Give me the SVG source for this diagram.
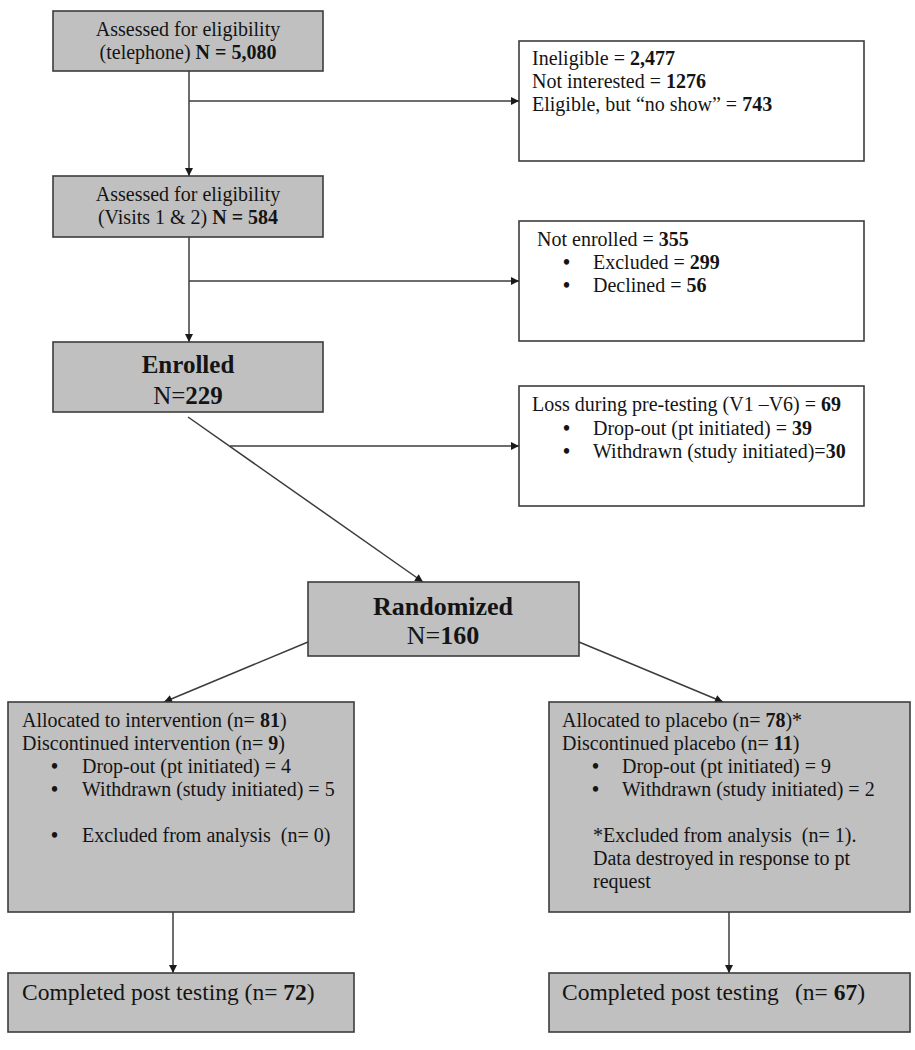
<svg xmlns="http://www.w3.org/2000/svg" width="915" height="1050" viewBox="0 0 915 1050">
<style>
.bg{fill:#ffffff}
.box{fill:#c0c0c0;stroke:#3c3c3c;stroke-width:1.6}
.wbox{fill:#ffffff;stroke:#3c3c3c;stroke-width:1.6}
.t{font-family:"Liberation Serif","Times New Roman",serif;font-size:20px;fill:#141414}
.dot{font-family:"Liberation Serif","Times New Roman",serif;font-size:20px;fill:#141414;font-weight:bold}
.big{font-family:"Liberation Serif","Times New Roman",serif;font-size:25px;fill:#141414;font-weight:bold}
.post{font-family:"Liberation Serif","Times New Roman",serif;font-size:23.5px;fill:#141414}
.c{text-anchor:middle}
.b{font-weight:bold}
.n{font-weight:normal}
.con{stroke:#3c3c3c;stroke-width:1.5;fill:none}
</style>
<defs>
<marker id="arr" viewBox="0 0 10 10" refX="10" refY="5" markerWidth="9" markerHeight="8" markerUnits="userSpaceOnUse" orient="auto">
<path d="M0,0 L10,5 L0,10 z" fill="#1a1a1a"/>
</marker>
</defs>
<rect class="bg" x="0" y="0" width="915" height="1050"/>

<g id="connectors">
<line class="con" x1="189" y1="71" x2="189" y2="176" marker-end="url(#arr)"/>
<line class="con" x1="189" y1="101" x2="519" y2="101" marker-end="url(#arr)"/>
<line class="con" x1="189" y1="237" x2="189" y2="342" marker-end="url(#arr)"/>
<line class="con" x1="189" y1="281" x2="519" y2="281" marker-end="url(#arr)"/>
<line class="con" x1="188" y1="417" x2="423" y2="582" marker-end="url(#arr)"/>
<line class="con" x1="230" y1="446" x2="519" y2="446" marker-end="url(#arr)"/>
<line class="con" x1="308" y1="642" x2="164" y2="702" marker-end="url(#arr)"/>
<line class="con" x1="579" y1="642" x2="723" y2="702" marker-end="url(#arr)"/>
<line class="con" x1="173" y1="912" x2="173" y2="973" marker-end="url(#arr)"/>
<line class="con" x1="729" y1="912" x2="729" y2="973" marker-end="url(#arr)"/>
</g>

<g id="assessed-telephone">
<rect class="box" x="53" y="11" width="270" height="60"/>
<text class="t c" x="188" y="36">Assessed for eligibility</text>
<text class="t c" x="188" y="59">(telephone) <tspan class="b">N = 5,080</tspan></text>
</g>

<g id="excluded-telephone">
<rect class="wbox" x="519" y="41" width="345" height="120"/>
<text class="t" x="532" y="65">Ineligible = <tspan class="b">2,477</tspan></text>
<text class="t" x="532" y="88">Not interested = <tspan class="b">1276</tspan></text>
<text class="t" x="532" y="111">Eligible, but “no show” = <tspan class="b">743</tspan></text>
</g>

<g id="assessed-visits">
<rect class="box" x="53" y="176" width="270" height="61"/>
<text class="t c" x="188" y="201">Assessed for eligibility</text>
<text class="t c" x="188" y="224">(Visits 1 &amp; 2) <tspan class="b">N = 584</tspan></text>
</g>

<g id="not-enrolled">
<rect class="wbox" x="519" y="221" width="345" height="120"/>
<text class="t" x="537" y="246">Not enrolled = <tspan class="b">355</tspan></text>
<text class="dot" x="563" y="269">•</text>
<text class="t" x="593" y="269">Excluded = <tspan class="b">299</tspan></text>
<text class="dot" x="563" y="292">•</text>
<text class="t" x="593" y="292">Declined = <tspan class="b">56</tspan></text>
</g>

<g id="enrolled">
<rect class="box" x="53" y="342" width="270" height="70"/>
<text class="big c" x="188" y="373">Enrolled</text>
<text class="big c" x="188" y="404"><tspan class="n">N=</tspan>229</text>
</g>

<g id="loss-pretesting">
<rect class="wbox" x="519" y="386" width="345" height="120"/>
<text class="t" x="532" y="411">Loss during pre-testing (V1 –V6) = <tspan class="b">69</tspan></text>
<text class="dot" x="563" y="435">•</text>
<text class="t" x="593" y="435">Drop-out (pt initiated) = <tspan class="b">39</tspan></text>
<text class="dot" x="563" y="458">•</text>
<text class="t" x="593" y="458">Withdrawn (study initiated)=<tspan class="b">30</tspan></text>
</g>

<g id="randomized">
<rect class="box" x="308" y="582" width="271" height="74"/>
<text class="big c" x="443" y="615" style="font-size:26px">Randomized</text>
<text class="big c" x="443" y="644" style="font-size:26px"><tspan class="n">N=</tspan>160</text>
</g>

<g id="allocated-intervention">
<rect class="box" x="8" y="702" width="346" height="210"/>
<text class="t" x="22" y="727">Allocated to intervention (n= <tspan class="b">81</tspan>)</text>
<text class="t" x="22" y="750">Discontinued intervention (n= <tspan class="b">9</tspan>)</text>
<text class="dot" x="51" y="773">•</text>
<text class="t" x="82" y="773">Drop-out (pt initiated) = 4</text>
<text class="dot" x="51" y="796">•</text>
<text class="t" x="82" y="796">Withdrawn (study initiated) = 5</text>
<text class="dot" x="51" y="842">•</text>
<text class="t" x="82" y="842" xml:space="preserve">Excluded from analysis  (n= 0)</text>
</g>

<g id="allocated-placebo">
<rect class="box" x="549" y="702" width="361" height="210"/>
<text class="t" x="562" y="727">Allocated to placebo (n= <tspan class="b">78</tspan>)*</text>
<text class="t" x="562" y="750">Discontinued placebo (n= <tspan class="b">11</tspan>)</text>
<text class="dot" x="592" y="773">•</text>
<text class="t" x="622" y="773">Drop-out (pt initiated) = 9</text>
<text class="dot" x="592" y="796">•</text>
<text class="t" x="622" y="796">Withdrawn (study initiated) = 2</text>
<text class="t" x="593" y="842" xml:space="preserve">*Excluded from analysis  (n= 1).</text>
<text class="t" x="593" y="865">Data destroyed in response to pt</text>
<text class="t" x="593" y="888">request</text>
</g>

<g id="completed-intervention">
<rect class="box" x="8" y="973" width="346" height="59"/>
<text class="post" x="22" y="1000">Completed post testing (n= <tspan class="b">72</tspan>)</text>
</g>

<g id="completed-placebo">
<rect class="box" x="549" y="973" width="361" height="59"/>
<text class="post" x="562" y="1000">Completed post testing</text>
<text class="post" x="795" y="1000">(n= <tspan class="b">67</tspan>)</text>
</g>
</svg>
